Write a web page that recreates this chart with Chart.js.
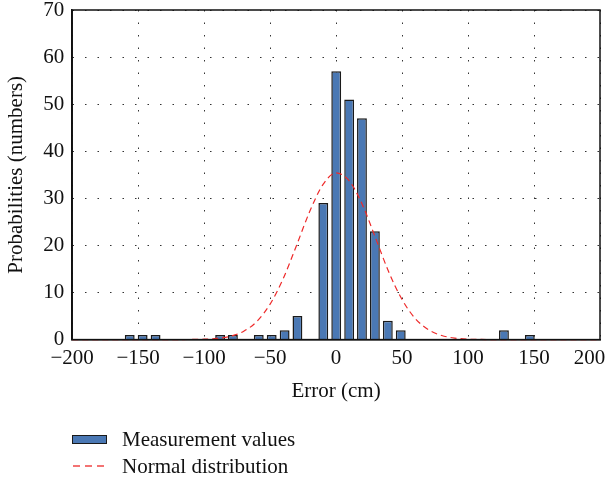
<!DOCTYPE html>
<html>
<head>
<meta charset="utf-8">
<script src="https://cdn.jsdelivr.net/npm/chart.js@4.4.1/dist/chart.umd.min.js"></script>
<style>
	body { margin: 0; background: #fff; }
	#wrap { position: relative; width: 608px; height: 479px; font-family: "Liberation Serif", serif; }
	#chart { position: absolute; left: 0; top: 0; }
	.leg { position: absolute; left: 72px; font-size: 21px; color: #111; }
	.leg span { position: absolute; left: 50px; top: 0; white-space: nowrap; line-height: 24px; }
	.box { position: absolute; left: 0; top: 7.5px; width: 33px; height: 7px; background: #4a78b4; border: 1.5px solid #1a1a1a; }
</style>
</head>
<body>
<div id="wrap">
	<canvas id="chart" width="608" height="479"></canvas>
	<div class="leg" style="top:427px;"><div class="box"></div><span>Measurement values</span></div>
	<div class="leg" style="top:454px;">
		<svg width="38" height="24" style="position:absolute;left:0;top:0;"><line x1="1" y1="12" x2="37" y2="12" stroke="#f04545" stroke-width="1.3" stroke-dasharray="7,5"/></svg>
		<span>Normal distribution</span>
	</div>
</div>
<script>

// histogram bins (error, cm) and counts
var binCenters = [-156.4, -146.6, -136.8, -87.9, -78.2, -58.6, -48.8, -39.0, -29.3, -9.7, 0.1, 9.9, 19.6, 29.4, 39.2, 49.0, 127.2, 146.8];
var binCounts  = [1, 1, 1, 1, 1, 1, 1, 2, 5, 29, 57, 51, 47, 23, 4, 2, 2, 1];

// normal distribution curve
var curveX = [-200, -190, -180, -170, -160, -150, -140, -130, -120, -110, -100, -90, -80, -70, -60, -50, -40, -30, -20, -10, 0, 10, 20, 30, 40, 50, 60, 70, 80, 90, 100, 110, 120, 130, 140, 150, 160, 170, 180, 190, 200];
var curveY = [0, 0, 0, 0, 0, 0, 0, 0, 0, 0.03, 0.08, 0.26, 0.72, 1.77, 3.88, 7.54, 13.0, 20.0, 27.2, 32.9, 35.4, 33.7, 28.6, 21.5, 14.3, 8.5, 4.47, 2.09, 0.87, 0.32, 0.1, 0.03, 0, 0, 0, 0, 0, 0, 0, 0, 0];

var xTicks = [-200, -150, -100, -50, 0, 50, 100, 150, 200];

function init_chart_error(){

	if( typeof (Chart) === 'undefined'){ return; }

	var barData = binCenters.map(function(x, i){ return {x: x, y: binCounts[i]}; });
	var lineData = curveX.map(function(x, i){ return {x: x, y: curveY[i]}; });

	var frame = {
		id: 'frame',
		afterDraw: function(chart){
			var a = chart.chartArea, ctx = chart.ctx;
			ctx.save();
			ctx.strokeStyle = '#111';
			ctx.lineWidth = 1.5;
			ctx.strokeRect(a.left, a.top, a.right - a.left, a.bottom - a.top);
			ctx.restore();
		}
	};

	var font = { family: '"Liberation Serif", serif', size: 21 };

	var chart_settings = {
		type: 'bar',
		data: {
			datasets: [{
				type: 'line',
				label: 'Normal distribution',
				data: lineData,
				borderColor: '#ee2a2a',
				borderWidth: 1.2,
				borderDash: [6, 4],
				pointRadius: 0,
				cubicInterpolationMode: 'monotone',
				clip: 4,
				order: 0
			}, {
				label: 'Measurement values',
				data: barData,
				backgroundColor: '#4a78b4',
				borderColor: '#1a1a1a',
				borderWidth: 1.5,
				barPercentage: 0.77,
				categoryPercentage: 1,
				order: 1
			}]
		},
		options: {
			responsive: false,
			animation: false,
			layout: { padding: { top: 10, right: 8, bottom: 75, left: 0 } },
			plugins: { legend: { display: false }, tooltip: { enabled: false } },
			scales: {
				x: {
					type: 'linear',
					offset: false,
					min: -200, max: 200,
					afterBuildTicks: function(scale){ scale.ticks = xTicks.map(function(v){ return {value: v}; }); },
					afterFit: function(scale){ scale.paddingRight = 0; },
					ticks: {
						font: font, color: '#111', padding: 6, maxRotation: 0,
						callback: function(v){ var s = String(v).replace('-', '\u2212'); return v === 200 ? s + '\u2007\u2007' : s; }
					},
					grid: { color: '#333', lineWidth: 1, drawTicks: false, offset: false },
					border: { color: '#111', width: 1.5, dash: [1.5, 11] },
					title: { display: true, text: 'Error (cm)', font: font, color: '#111', padding: { top: 2, bottom: 0 } }
				},
				y: {
					min: 0, max: 70,
					afterFit: function(scale){ scale.paddingTop = 0; scale.paddingBottom = 0; },
					ticks: { stepSize: 10, font: font, color: '#111', padding: 8 },
					grid: { color: '#333', lineWidth: 1, drawTicks: false },
					border: { color: '#111', width: 1.5, dash: [1.5, 11] },
					title: { display: true, text: 'Probabilities (numbers)', font: font, color: '#111', padding: { top: 4, bottom: 6 } }
				}
			}
		},
		plugins: [frame]
	};

	new Chart(document.getElementById('chart'), chart_settings);
}

init_chart_error();
</script>
</body>
</html>
